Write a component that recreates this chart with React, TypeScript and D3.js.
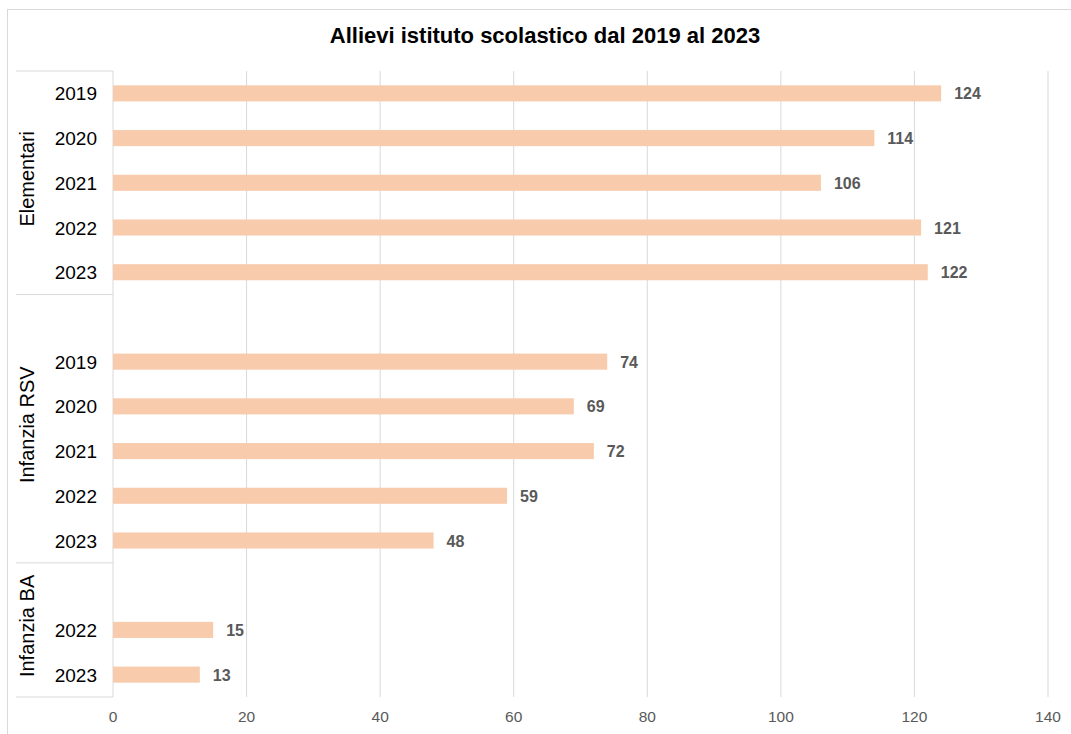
import React from "react";
import * as d3 from "d3";

const title = "Allievi istituto scolastico dal 2019 al 2023";
const groupNames = ["Elementari", "Infanzia RSV", "Infanzia BA"];
const elementariYears = ["2019", "2020", "2021", "2022", "2023"];
const elementariValues = [124, 114, 106, 121, 122];
const rsvYears = ["", "2019", "2020", "2021", "2022", "2023"];
const rsvValues = [null, 74, 69, 72, 59, 48];
const baYears = ["", "2022", "2023"];
const baValues = [null, 15, 13];
const xTicks = [0, 20, 40, 60, 80, 100, 120, 140];

type Row = { key: string; group: string; year: string; value: number | null };

const groupRows: [string, string[], (number | null)[]][] = [
  [groupNames[0], elementariYears, elementariValues],
  [groupNames[1], rsvYears, rsvValues],
  [groupNames[2], baYears, baValues],
];

const rows: Row[] = [];
groupRows.forEach(([g, ys, vs]) => {
  ys.forEach((y, i) => rows.push({ key: `${g}-${i}`, group: g, year: y, value: vs[i] }));
});

export default function App() {
  const W = 1071;
  const H = 734;
  const left = 113;
  const right = 1048;
  const top = 71;
  const bottom = 697;
  const x = d3.scaleLinear().domain([0, 140]).range([left, right]);
  const y = d3
    .scaleBand<string>()
    .domain(rows.map((r) => r.key))
    .range([top, bottom])
    .paddingInner(0.64)
    .paddingOuter(0.32);
  const step = y.step();
  const font = "Arial, 'Liberation Sans', sans-serif";

  const groupInfo = groupRows.map(([g]) => {
    const keys = rows.filter((r) => r.group === g).map((r) => r.key);
    const y0 = top + rows.findIndex((r) => r.key === keys[0]) * step;
    const y1 = y0 + keys.length * step;
    return { g, y0, y1 };
  });

  return (
    <svg
      width={W}
      height={H}
      style={{ position: "absolute", left: 0, top: 0, background: "#fff" }}
      fontFamily={font}
    >
      <rect x={7.5} y={9.5} width={1100} height={800} fill="#fff" stroke="#d9d9d9" />
      <text x={545} y={43} textAnchor="middle" fontSize={22} fontWeight="bold" fill="#000">
        {title}
      </text>
      {xTicks.map((t) => (
        <g key={t}>
          {t > 0 && (
            <line x1={x(t)} x2={x(t)} y1={top} y2={bottom} stroke="#d9d9d9" strokeWidth={1} />
          )}
          <text x={x(t)} y={722} textAnchor="middle" fontSize={15.5} fill="#595959">
            {t}
          </text>
        </g>
      ))}
      <line x1={left} x2={left} y1={top} y2={bottom} stroke="#d9d9d9" />
      <line x1={16} x2={left} y1={top} y2={top} stroke="#d9d9d9" />
      {groupInfo.map((gi) => (
        <g key={gi.g}>
          <line x1={16} x2={left} y1={gi.y1} y2={gi.y1} stroke="#d9d9d9" />
          <text
            transform={`translate(34, ${(gi.y0 + gi.y1) / 2 - 4}) rotate(-90)`}
            textAnchor="middle"
            fontSize={20}
            fill="#000"
          >
            {gi.g}
          </text>
        </g>
      ))}
      {rows.map((r) => {
        const cy = (y(r.key) as number) + y.bandwidth() / 2;
        return (
          <g key={r.key}>
            {r.year && (
              <text x={97} y={cy + 7} textAnchor="end" fontSize={19} fill="#000">
                {r.year}
              </text>
            )}
            {r.value !== null && (
              <>
                <rect
                  x={x(0)}
                  y={y(r.key)}
                  width={x(r.value) - x(0)}
                  height={y.bandwidth()}
                  fill="#F8CBAD"
                />
                <text
                  x={x(r.value) + 13}
                  y={cy + 6}
                  fontSize={16}
                  fontWeight="bold"
                  fill="#595959"
                >
                  {r.value}
                </text>
              </>
            )}
          </g>
        );
      })}
    </svg>
  );
}
